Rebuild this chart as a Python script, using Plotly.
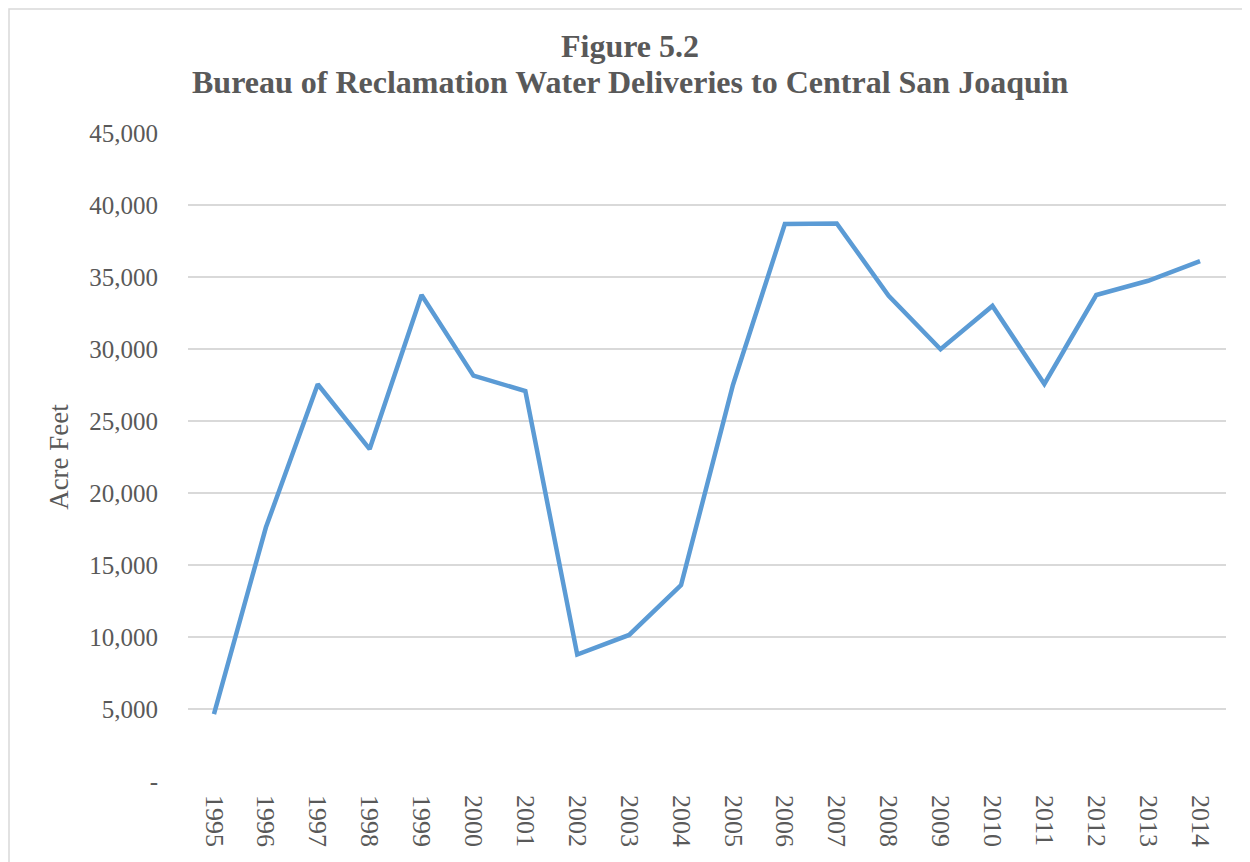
import plotly.graph_objects as go

years = [str(y) for y in range(1995, 2015)]
acre_feet = [4650, 17600, 27550, 23050, 33750, 28150, 27080, 8780, 10140, 13600,
             27500, 38680, 38720, 33700, 29980, 32990, 27570, 33750, 34740, 36100]
y_tick_vals = [0, 5000, 10000, 15000, 20000, 25000, 30000, 35000, 40000, 45000]
y_tick_text = ["-", "5,000", "10,000", "15,000", "20,000", "25,000", "30,000",
               "35,000", "40,000", "45,000"]
title_lines = ["Figure 5.2", "Bureau of Reclamation Water Deliveries to Central San Joaquin"]

font_family = "Liberation Serif, Times New Roman, serif"
gray = "#595959"

# page body has an 8px margin; compensate
OFF = 8
W, H = 1250 - OFF, 862 - OFF
ML, MT = 188 - OFF, 133 - OFF
PW, PH = 1038, 648
MR = W - ML - PW
MB = H - MT - PH

fig = go.Figure()
fig.add_trace(go.Scatter(
    x=years, y=acre_feet, mode="lines",
    line=dict(color="#5B9BD5", width=4.5),
    showlegend=False,
))

title_x = (630 - OFF - ML) / PW
title_centers_px = [46, 82.5]  # screen pixels (vertical centre of each title line)
annotations = [
    dict(text="<b>%s</b>" % t, xref="paper", yref="paper",
         x=title_x, y=1 + (MT - (cy - OFF)) / PH,
         xanchor="center", yanchor="middle", showarrow=False,
         font=dict(family=font_family, size=32, color=gray))
    for t, cy in zip(title_lines, title_centers_px)
]

fig.update_layout(
    width=W, height=H,
    paper_bgcolor="white", plot_bgcolor="white",
    margin=dict(l=ML, r=MR, t=MT, b=MB, pad=0),
    font=dict(family=font_family, color=gray),
    annotations=annotations,
    xaxis=dict(
        type="category",
        range=[-0.5, len(years) - 0.5],
        tickangle=90,
        tickfont=dict(family=font_family, size=26, color=gray),
        showgrid=False, zeroline=False, showline=False,
        ticks="", ticklabelstandoff=13,
    ),
    yaxis=dict(
        range=[0, 45000],
        tickvals=y_tick_vals, ticktext=y_tick_text,
        tickfont=dict(family=font_family, size=25, color=gray),
        showgrid=True, gridcolor="#d9d9d9", gridwidth=1.5,
        zeroline=False, showline=False, ticks="",
        ticklabelstandoff=29,
        title=dict(text="Acre Feet", font=dict(family=font_family, size=27, color=gray),
                   standoff=12),
    ),
    shapes=[dict(type="rect", xref="paper", yref="paper",
                 x0=(1 - ML) / PW, x1=(1300 - ML) / PW,
                 y0=-(H + 50 - MT - PH) / PH, y1=(MT + PH - 1) / PH,
                 line=dict(color="#d9d9d9", width=1.5), fillcolor="rgba(0,0,0,0)",
                 layer="below")],
)

fig.write_html("out.html")
